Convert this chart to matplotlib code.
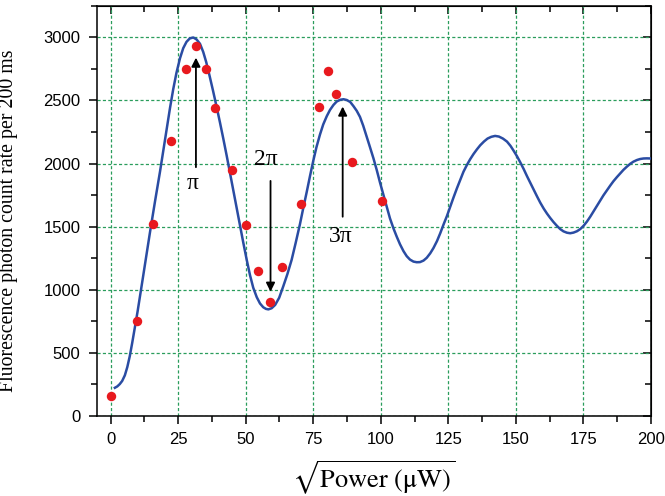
import matplotlib
matplotlib.use("Agg")
import matplotlib.pyplot as plt
from matplotlib.ticker import MultipleLocator

plt.rcParams["mathtext.fontset"] = "stix"

pontos_x = [0.0, 9.7, 15.8, 22.3, 28.1, 31.5, 35.3, 38.6, 44.8, 50.0,
            54.4, 59.1, 63.3, 70.5, 77.3, 80.6, 83.6, 89.5, 100.6]
pontos_y = [158, 751, 1521, 2177, 2751, 2936, 2748, 2439, 1952, 1513,
            1150, 899, 1182, 1682, 2452, 2737, 2550, 2010, 1700]

# Curva de ajuste (amostrada da figura)
curva_x = [1.6, 2.5, 3.4, 4.3, 5.3, 6.2, 7.1, 8.0, 9.0, 10.0,
           10.9, 11.8, 12.7, 13.6, 14.6, 15.5, 16.5, 17.4, 18.3, 19.5,
           20.7, 22.0, 23.2, 24.4, 25.7, 26.9, 28.1, 29.3, 30.6, 31.8,
           33.1, 34.3, 35.4, 36.6, 37.9, 39.3, 40.5, 41.7, 43.0, 44.2,
           45.7, 47.3, 48.2, 49.1, 50.4, 51.6, 52.8, 54.1, 55.3, 56.5,
           57.5, 58.4, 59.6, 60.9, 62.4, 63.9, 65.4, 67.0, 68.5, 70.1,
           71.3, 72.6, 73.8, 75.0, 76.2, 77.5, 78.7, 80.0, 81.2, 82.5,
           83.7, 85.0, 86.2, 87.4, 88.7, 89.9, 91.1, 92.3, 93.5, 94.8,
           96.0, 97.3, 98.5, 99.7, 101.0, 102.2, 103.4, 104.7, 105.9, 107.1,
           108.4, 109.6, 110.8, 112.1, 113.3, 114.5, 115.8, 117.0, 118.3, 119.5,
           120.8, 122.0, 123.2, 124.5, 125.7, 126.9, 128.2, 129.4, 130.6, 131.9,
           133.1, 134.3, 135.6, 136.8, 138.2, 139.5, 140.9, 142.3, 143.7, 145.2,
           146.7, 148.0, 149.2, 150.4, 151.6, 152.9, 154.1, 155.3, 156.6, 157.8,
           159.0, 160.3, 161.5, 162.7, 163.9, 165.2, 166.4, 167.6, 168.9, 170.1,
           171.3, 172.6, 173.8, 175.0, 176.3, 177.5, 178.7, 180.0, 181.2, 182.4,
           183.7, 184.9, 186.1, 187.4, 188.6, 189.8, 191.1, 192.3, 193.5, 194.8,
           196.0, 197.2, 198.4, 200.0]
curva_y = [221, 232, 250, 275, 320, 385, 470, 575, 700, 825,
           945, 1070, 1195, 1320, 1455, 1575, 1705, 1820, 1935, 2100,
           2265, 2440, 2590, 2720, 2835, 2915, 2965, 2992, 3000, 2985,
           2950, 2885, 2805, 2700, 2580, 2445, 2325, 2200, 2060, 1925,
           1755, 1575, 1475, 1375, 1235, 1115, 1015, 940, 890, 860,
           847, 843, 852, 878, 935, 1025, 1120, 1235, 1370, 1520,
           1645, 1775, 1900, 2020, 2130, 2230, 2310, 2375, 2425, 2465,
           2492, 2506, 2510, 2504, 2488, 2455, 2418, 2370, 2300, 2213,
           2130, 2040, 1949, 1850, 1750, 1658, 1565, 1485, 1420, 1360,
           1305, 1265, 1238, 1222, 1217, 1218, 1230, 1252, 1288, 1330,
           1385, 1447, 1515, 1585, 1658, 1730, 1805, 1870, 1935, 1990,
           2035, 2075, 2113, 2145, 2175, 2198, 2212, 2219, 2214, 2198,
           2174, 2140, 2100, 2058, 2010, 1955, 1900, 1848, 1792, 1740,
           1690, 1642, 1603, 1568, 1536, 1505, 1480, 1462, 1451, 1447,
           1452, 1463, 1480, 1505, 1540, 1578, 1620, 1665, 1708, 1748,
           1788, 1825, 1860, 1893, 1922, 1950, 1976, 1998, 2015, 2028,
           2036, 2040, 2041, 2040]

# Setas e rótulos (pi, 2pi, 3pi)
rotulos = ["π", "2π", "3π"]
rotulo_x = [30.5, 57.5, 85.2]
rotulo_y = [1844, 2034, 1420]
seta_x = [31.6, 59.2, 85.9]
seta_inicio_y = [1971, 1862, 1578]
seta_fim_y = [2840, 983, 2452]

fig = plt.figure(figsize=(6.65, 4.96), dpi=100)
ax = fig.add_axes([0.1459, 0.162, 0.979 - 0.1459, 0.988 - 0.162])

ax.plot(curva_x, curva_y, color="#2a4ca3", lw=1.8, zorder=3)
ax.plot(pontos_x, pontos_y, "o", color="#e8191e", markersize=6.8,
        markeredgewidth=0, zorder=4)

for txt, lx, ly, sx, sy0, sy1 in zip(rotulos, rotulo_x, rotulo_y,
                                      seta_x, seta_inicio_y, seta_fim_y):
    ax.annotate("", xy=(sx, sy1), xytext=(sx, sy0),
                arrowprops=dict(arrowstyle="-|>", color="black", lw=1.3,
                                mutation_scale=13, shrinkA=0, shrinkB=0),
                zorder=5)
    ax.text(lx, ly, txt, ha="center", va="center", fontsize=17,
            family=["Liberation Serif", "DejaVu Serif"], zorder=5)

ax.set_xlim(-5, 200)
ax.set_ylim(0, 3250)
ax.xaxis.set_major_locator(MultipleLocator(25))
ax.xaxis.set_minor_locator(MultipleLocator(12.5))
ax.yaxis.set_major_locator(MultipleLocator(500))
ax.yaxis.set_minor_locator(MultipleLocator(250))

ax.grid(True, which="major", color="#2a9d5c", lw=0.9, linestyle=(0, (2.5, 1.8)))
ax.set_axisbelow(True)

for s in ax.spines.values():
    s.set_linewidth(1.1)

ax.tick_params(which="major", direction="out", length=6, width=1.1,
               labelsize=12, pad=6)
ax.tick_params(which="minor", direction="out", length=4, width=1.1)
for lab in ax.get_xticklabels() + ax.get_yticklabels():
    lab.set_family("Liberation Sans")

# Ticks internos no topo e à direita
topo = ax.secondary_xaxis("top")
topo.xaxis.set_major_locator(MultipleLocator(25))
topo.xaxis.set_minor_locator(MultipleLocator(12.5))
topo.tick_params(which="both", direction="in", labeltop=False, width=1.1)
topo.tick_params(which="major", length=6)
topo.tick_params(which="minor", length=4)
direita = ax.secondary_yaxis("right")
direita.yaxis.set_major_locator(MultipleLocator(500))
direita.yaxis.set_minor_locator(MultipleLocator(250))
direita.tick_params(which="both", direction="in", labelright=False, width=1.1)
direita.tick_params(which="major", length=6)
direita.tick_params(which="minor", length=4)

ax.set_ylabel("Fluorescence photon count rate per 200 ms", fontsize=14.3,
              family="Liberation Serif")
ax.yaxis.set_label_coords(-0.142, 0.475)
ax.set_xlabel(r"$\sqrt{\mathrm{Power\ (μW)}}$", fontsize=19)
ax.xaxis.set_label_coords(0.5, -0.105)

fig.savefig("out.png", dpi=100)
